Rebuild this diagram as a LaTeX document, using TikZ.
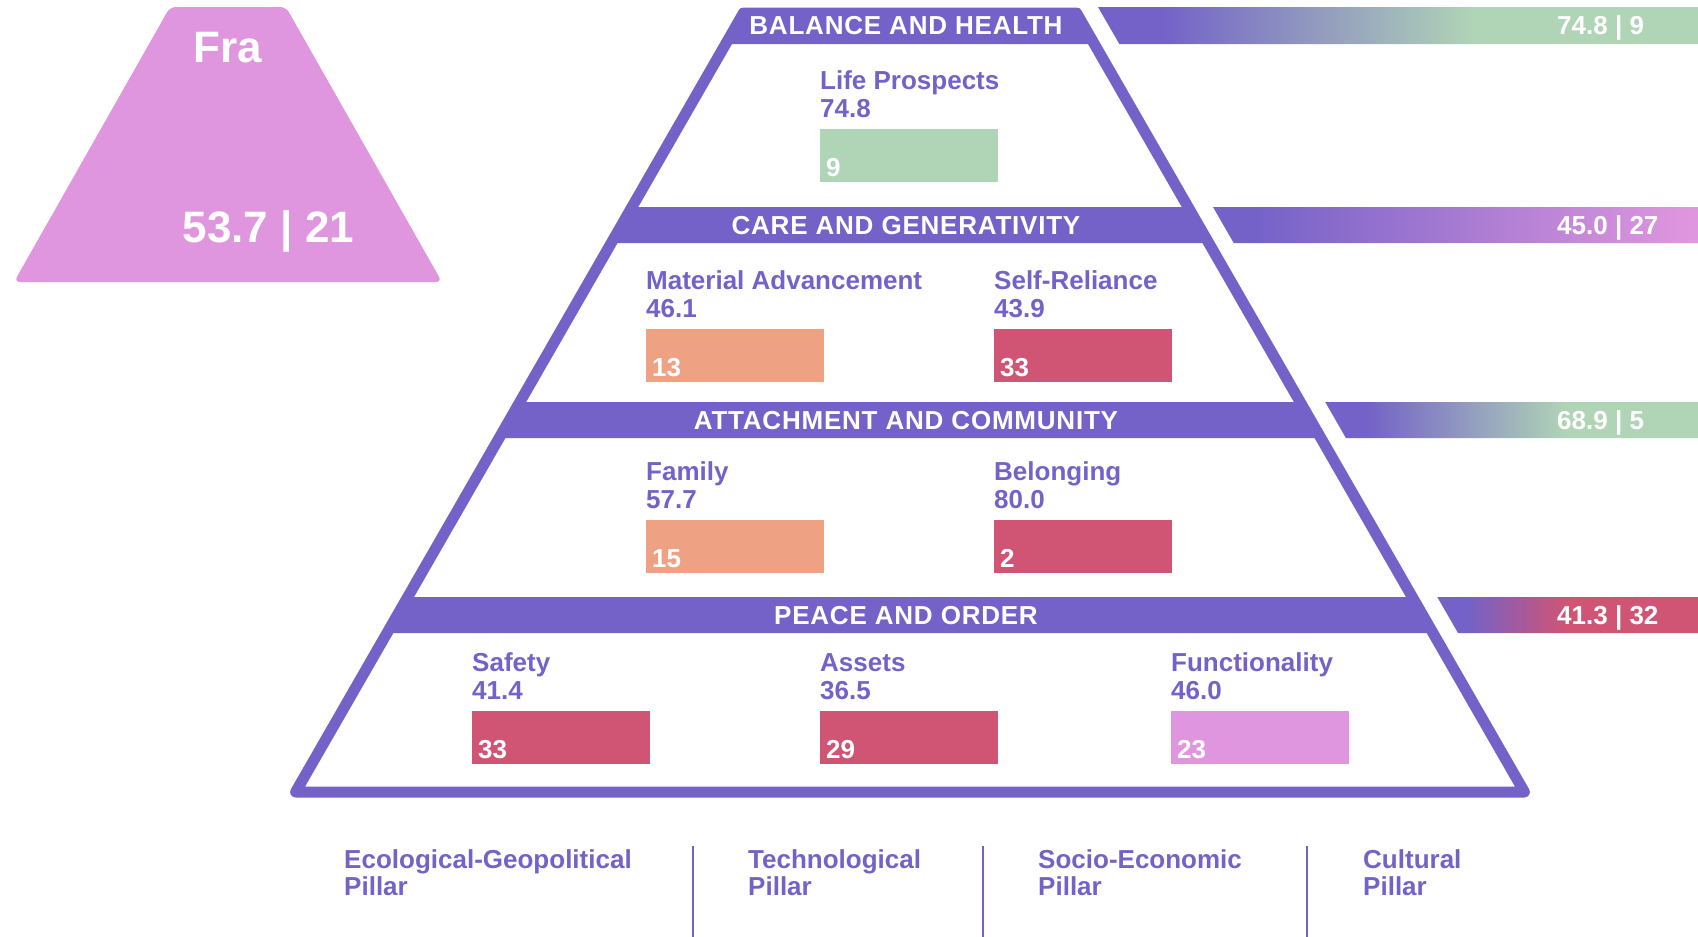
\documentclass[tikz,border=0pt]{standalone}
\usepackage{fontspec}
\setmainfont{Liberation Sans}
\usetikzlibrary{positioning}

\definecolor{pyrpurple}{HTML}{7462C8}
\definecolor{scoregreen}{HTML}{B0D4B6}
\definecolor{scorepink}{HTML}{E096DE}
\definecolor{scoresalmon}{HTML}{EFA283}
\definecolor{scorered}{HTML}{D05474}

% strip gradients (middle 50bp of each shading spans the strip)
\pgfdeclarehorizontalshading{balancestrip}{100bp}{color(0bp)=(pyrpurple); color(30.4bp)=(pyrpurple); color(56.3bp)=(scoregreen); color(100bp)=(scoregreen)}
\pgfdeclarehorizontalshading{carestrip}{100bp}{color(0bp)=(pyrpurple); color(29.1bp)=(pyrpurple); color(74.2bp)=(scorepink); color(100bp)=(scorepink)}
\pgfdeclarehorizontalshading{attachstrip}{100bp}{color(0bp)=(pyrpurple); color(30.6bp)=(pyrpurple); color(57.4bp)=(scoregreen); color(100bp)=(scoregreen)}
\pgfdeclarehorizontalshading{peacestrip}{100bp}{color(0bp)=(pyrpurple); color(30.7bp)=(pyrpurple); color(49.9bp)=(scorered); color(100bp)=(scorered)}

\begin{document}
\begin{tikzpicture}[x=1pt, y=-1pt,
        bandtitle/.style={font=\fontsize{26}{30}\selectfont\bfseries\addfontfeatures{LetterSpace=3},
            text=white, anchor=base, inner sep=0pt},
        metricname/.style={font=\fontsize{26}{30}\selectfont\bfseries,
            text=pyrpurple, anchor=base west, inner sep=0pt},
        metricbar/.style={rectangle, minimum width=178pt, minimum height=53pt,
            anchor=north west, inner sep=0pt},
        barrank/.style={font=\fontsize{26}{30}\selectfont\bfseries,
            text=white, anchor=base west, inner sep=0pt},
        scoretext/.style={font=\fontsize{26}{30}\selectfont\bfseries,
            text=white, anchor=base west, inner sep=0pt},
        flagtext/.style={font=\fontsize{44}{50}\selectfont\bfseries,
            text=white, anchor=base, inner sep=0pt},
        pillarname/.style={font=\fontsize{26}{27}\selectfont\bfseries,
            text=pyrpurple, anchor=north west, align=left, inner sep=0pt},
        pillarline/.style={draw=pyrpurple, line width=2pt}
    ]
        \useasboundingbox (0,0) rectangle (1698,937);

        % country badge
        \fill[scorepink, rounded corners=6pt] (170,7) -- (286,7) -- (442,282) -- (14,282) -- cycle;
        \node[flagtext] (countryname) at (228,62) {Fra};
        \node[flagtext] (countryscore) at (268.5,242) {53.7 | 21};

        % pyramid bands
        \fill[pyrpurple] (743.5,13) -- (1076.5,13) -- (1094.3,44) -- (725.7,44) -- cycle;
        \fill[pyrpurple] (632,207) -- (1188,207) -- (1208.7,243) -- (611.3,243) -- cycle;
        \fill[pyrpurple] (519.8,402) -- (1300.2,402) -- (1320.9,438) -- (499.1,438) -- cycle;
        \fill[pyrpurple] (407.7,597) -- (1412.3,597) -- (1433,633) -- (387,633) -- cycle;
        \draw[pyrpurple, line width=11pt, line join=round]
            (743.5,13) -- (1076.5,13) -- (1524.4,792) -- (295.6,792) -- cycle;

        \node[bandtitle] (balance) at (906,34.8) {BALANCE AND HEALTH};
        \node[bandtitle] (care) at (906,234.3) {CARE AND GENERATIVITY};
        \node[bandtitle] (attach) at (906,429.3) {ATTACHMENT AND COMMUNITY};
        \node[bandtitle] (peace) at (906,624.3) {PEACE AND ORDER};

        % score strips
        \shade[shading=balancestrip] (1098,7) -- (1698,7) -- (1698,44) -- (1119.3,44) -- cycle;
        \shade[shading=carestrip] (1213,207) -- (1698,207) -- (1698,243) -- (1233.7,243) -- cycle;
        \shade[shading=attachstrip] (1325.2,402) -- (1698,402) -- (1698,438) -- (1345.9,438) -- cycle;
        \shade[shading=peacestrip] (1437.3,597) -- (1698,597) -- (1698,633) -- (1458,633) -- cycle;

        \node[scoretext] (balancescore) at (1557,34.8) {74.8 | 9};
        \node[scoretext] (carescore) at (1557,234.3) {45.0 | 27};
        \node[scoretext] (attachscore) at (1557,429.3) {68.9 | 5};
        \node[scoretext] (peacescore) at (1557,624.3) {41.3 | 32};

        % metrics
        \node[metricbar, fill=scoregreen] (lifebar) at (820,129) {};
        \node[metricname] (lifename) at ([yshift=40pt]lifebar.north west) {Life Prospects};
        \node[metricname] (lifevalue) at ([yshift=12pt]lifebar.north west) {74.8};
        \node[barrank] (liferank) at ([shift={(6pt,6pt)}]lifebar.south west) {9};

        \node[metricbar, fill=scoresalmon] (materialbar) at (646,329) {};
        \node[metricname] (materialname) at ([yshift=40pt]materialbar.north west) {Material Advancement};
        \node[metricname] (materialvalue) at ([yshift=12pt]materialbar.north west) {46.1};
        \node[barrank] (materialrank) at ([shift={(6pt,6pt)}]materialbar.south west) {13};

        \node[metricbar, fill=scorered] (selfbar) at (994,329) {};
        \node[metricname] (selfname) at ([yshift=40pt]selfbar.north west) {Self-Reliance};
        \node[metricname] (selfvalue) at ([yshift=12pt]selfbar.north west) {43.9};
        \node[barrank] (selfrank) at ([shift={(6pt,6pt)}]selfbar.south west) {33};

        \node[metricbar, fill=scoresalmon] (familybar) at (646,520) {};
        \node[metricname] (familyname) at ([yshift=40pt]familybar.north west) {Family};
        \node[metricname] (familyvalue) at ([yshift=12pt]familybar.north west) {57.7};
        \node[barrank] (familyrank) at ([shift={(6pt,6pt)}]familybar.south west) {15};

        \node[metricbar, fill=scorered] (belongbar) at (994,520) {};
        \node[metricname] (belongname) at ([yshift=40pt]belongbar.north west) {Belonging};
        \node[metricname] (belongvalue) at ([yshift=12pt]belongbar.north west) {80.0};
        \node[barrank] (belongrank) at ([shift={(6pt,6pt)}]belongbar.south west) {2};

        \node[metricbar, fill=scorered] (safetybar) at (472,711) {};
        \node[metricname] (safetyname) at ([yshift=40pt]safetybar.north west) {Safety};
        \node[metricname] (safetyvalue) at ([yshift=12pt]safetybar.north west) {41.4};
        \node[barrank] (safetyrank) at ([shift={(6pt,6pt)}]safetybar.south west) {33};

        \node[metricbar, fill=scorered] (assetsbar) at (820,711) {};
        \node[metricname] (assetsname) at ([yshift=40pt]assetsbar.north west) {Assets};
        \node[metricname] (assetsvalue) at ([yshift=12pt]assetsbar.north west) {36.5};
        \node[barrank] (assetsrank) at ([shift={(6pt,6pt)}]assetsbar.south west) {29};

        \node[metricbar, fill=scorepink] (functionbar) at (1171,711) {};
        \node[metricname] (functionname) at ([yshift=40pt]functionbar.north west) {Functionality};
        \node[metricname] (functionvalue) at ([yshift=12pt]functionbar.north west) {46.0};
        \node[barrank] (functionrank) at ([shift={(6pt,6pt)}]functionbar.south west) {23};

        % pillars
        \node[pillarname] (ecopillar) at (344,849.5) {Ecological-Geopolitical\\Pillar};
        \node[pillarname] (techpillar) at (748,849.5) {Technological\\Pillar};
        \node[pillarname] (sociopillar) at (1038,849.5) {Socio-Economic\\Pillar};
        \node[pillarname] (culturepillar) at (1363,849.5) {Cultural\\Pillar};

        \draw[pillarline] (693,846) -- (693,937);
        \draw[pillarline] (983,846) -- (983,937);
        \draw[pillarline] (1307,846) -- (1307,937);
    \end{tikzpicture}
\end{document}
